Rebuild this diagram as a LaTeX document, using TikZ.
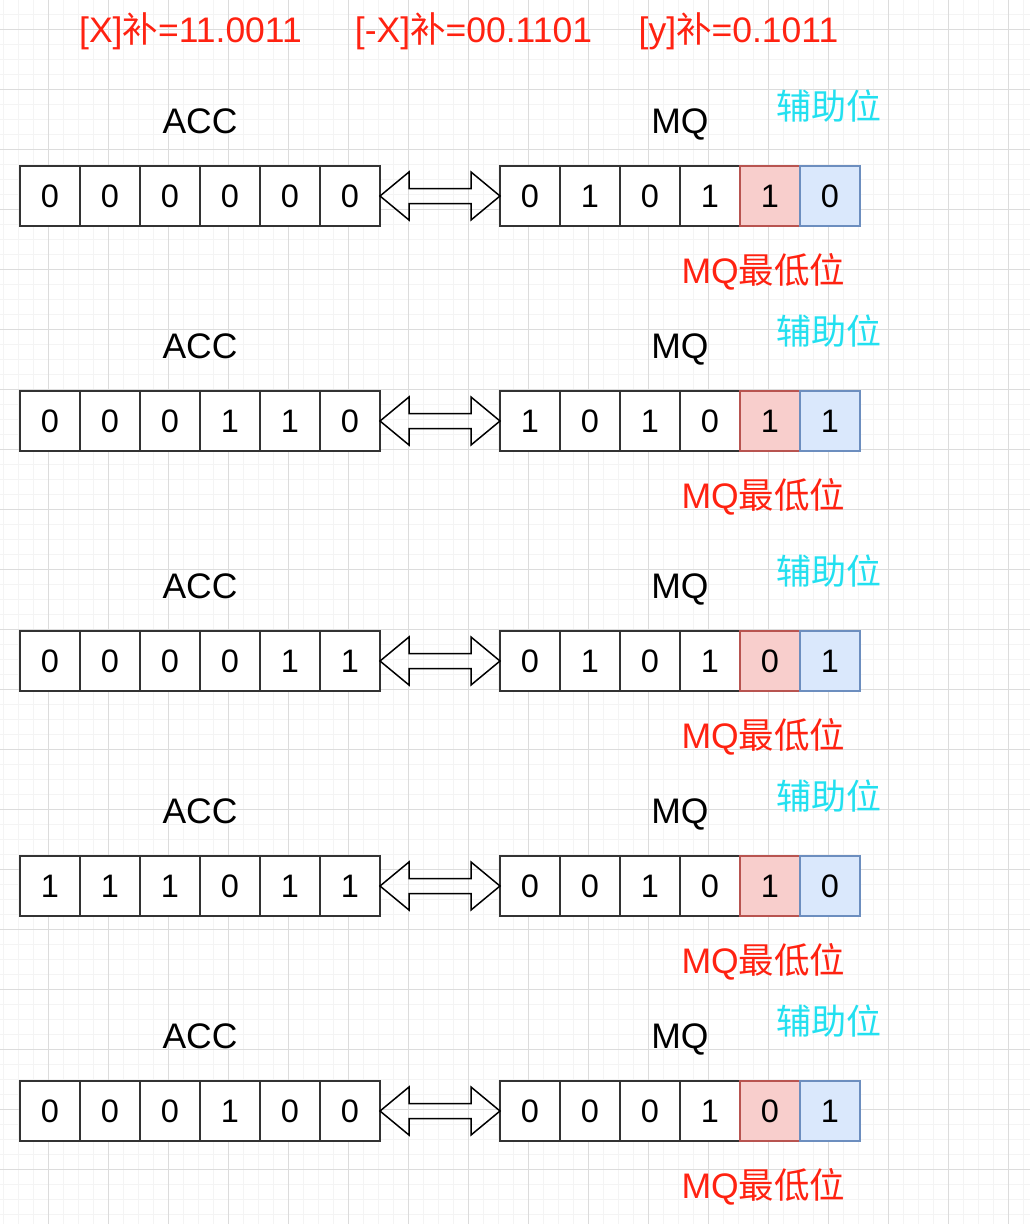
\documentclass[tikz,border=0pt]{standalone}
\usepackage{fontspec}
\setmainfont{Liberation Sans}
\newfontfamily\cjk{Noto Sans CJK SC}
\usetikzlibrary{calc}
\definecolor{redtxt}{HTML}{FF2211}
\definecolor{cyantxt}{HTML}{22E0F0}
\definecolor{cellline}{HTML}{333333}
\definecolor{lofill}{HTML}{F8CECC}
\definecolor{loline}{HTML}{B85450}
\definecolor{aufill}{HTML}{DAE8FC}
\definecolor{auline}{HTML}{6C8EBF}
\definecolor{gridmajor}{HTML}{DCDCDC}
\definecolor{gridminor}{HTML}{F4F4F4}
\begin{document}
\begin{tikzpicture}[x=1pt,y=-1pt,
  cell/.style={draw=cellline, fill=white, line width=1.8pt, minimum width=60pt, minimum height=60pt, inner sep=0pt, outer sep=0pt, font=\fontsize{32.5}{32.5}\selectfont},
  locell/.style={cell, draw=loline, fill=lofill},
  aucell/.style={cell, draw=auline, fill=aufill},
  regname/.style={inner sep=0pt, font=\fontsize{35.5}{35.5}\selectfont},
  redlabel/.style={inner sep=0pt, text=redtxt, font=\fontsize{35.5}{35.5}\selectfont},
  cyanlabel/.style={inner sep=0pt, text=cyantxt, font=\fontsize{35}{35}\selectfont\cjk},
  dblarrow/.style={draw=black, line width=1.5pt, line join=miter}
]
\useasboundingbox (0,0) rectangle (1030,1224);
\fill[white] (0,0) rectangle (1030,1224);
% grid
\foreach \x in {3,18,...,1030} \draw[gridminor, line width=1pt] (\x,0) -- (\x,1224);
\foreach \y in {14,29,...,1224} \draw[gridminor, line width=1pt] (0,\y) -- (1030,\y);
\foreach \x in {48,108,...,1030} \draw[gridmajor, line width=1pt] (\x,0) -- (\x,1224);
\foreach \y in {29,89,...,1224} \draw[gridmajor, line width=1pt] (0,\y) -- (1030,\y);

% header
\node[redlabel] (hx) at (190.5,31) {[X]{\cjk 补}=11.0011};
\node[redlabel] (hnx) at (473.5,31) {[-X]{\cjk 补}=00.1101};
\node[redlabel] (hy) at (738.5,31) {[y]{\cjk 补}=0.1011};

\foreach \r/\t/\acc/\mq/\lo/\au in {
  1/166/{0,0,0,0,0,0}/{0,1,0,1}/1/0,
  2/391/{0,0,0,1,1,0}/{1,0,1,0}/1/1,
  3/631/{0,0,0,0,1,1}/{0,1,0,1}/0/1,
  4/856/{1,1,1,0,1,1}/{0,0,1,0}/1/0,
  5/1081/{0,0,0,1,0,0}/{0,0,0,1}/0/1}{
  \foreach \d [count=\i] in \acc
    \node[cell] (acc\r-\i) at ({50+60*(\i-1)},\t+30) {\d};
  \foreach \d [count=\i] in \mq
    \node[cell] (mq\r-\i) at ({530+60*(\i-1)},\t+30) {\d};
  \node[locell] (lo\r) at (770,\t+30) {\lo};
  \node[aucell] (au\r) at (830,\t+30) {\au};
  \node[regname] (accname\r) at (200,\t-45) {ACC};
  \node[regname] (mqname\r) at (680,\t-42) {MQ};
  \node[cyanlabel] (aux\r) at (829,\t-60) {辅助位};
  \node[redlabel] (low\r) at (763.5,\t+106) {MQ{\cjk 最低位}};
  \draw[dblarrow] (acc\r-6.east)
    -- ($(acc\r-6.east)+(29,-24)$) -- ($(acc\r-6.east)+(29,-7.5)$)
    -- ($(mq\r-1.west)+(-29,-7.5)$) -- ($(mq\r-1.west)+(-29,-24)$)
    -- (mq\r-1.west)
    -- ($(mq\r-1.west)+(-29,24)$) -- ($(mq\r-1.west)+(-29,7.5)$)
    -- ($(acc\r-6.east)+(29,7.5)$) -- ($(acc\r-6.east)+(29,24)$)
    -- cycle;
}
\end{tikzpicture}
\end{document}
